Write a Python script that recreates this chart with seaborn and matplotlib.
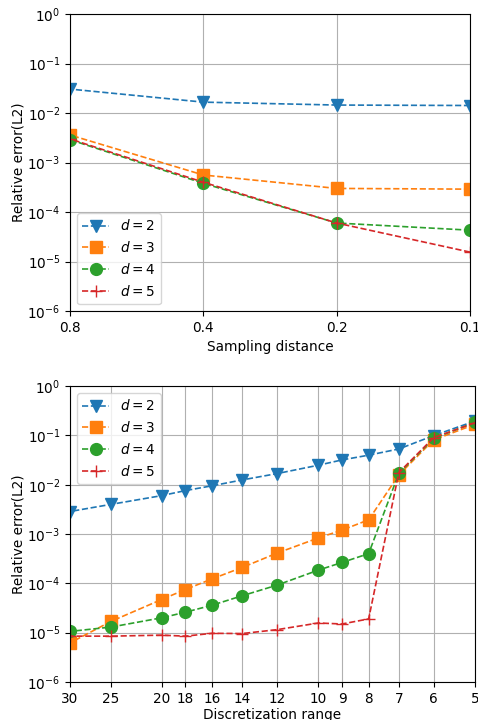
import matplotlib
matplotlib.use("Agg")
import matplotlib.pyplot as plt
import matplotlib.ticker as mticker
import seaborn as sns

# top panel: error vs sampling distance
sampling = [0.8, 0.4, 0.2, 0.1]
top_d2 = [3.05e-2, 1.66e-2, 1.45e-2, 1.42e-2]
top_d3 = [3.6e-3, 5.6e-4, 3.0e-4, 2.9e-4]
top_d4 = [2.9e-3, 3.8e-4, 6.0e-5, 4.3e-5]
top_d5 = [3.0e-3, 4.0e-4, 6.0e-5, 1.55e-5]

# bottom panel: error vs discretization range
disc = [30, 25, 20, 18, 16, 14, 12, 10, 9, 8, 7, 6, 5]
bot_d2 = [2.86e-3, 4.0e-3, 6.0e-3, 7.6e-3, 9.5e-3, 1.25e-2, 1.68e-2, 2.48e-2, 3.18e-2, 3.97e-2, 5.3e-2, 9.9e-2, 1.95e-1]
bot_d3 = [6.2e-6, 1.7e-5, 4.7e-5, 7.5e-5, 1.23e-4, 2.1e-4, 4.1e-4, 8.3e-4, 1.2e-3, 1.94e-3, 1.58e-2, 8.1e-2, 1.67e-1]
bot_d4 = [1.06e-5, 1.3e-5, 2.0e-5, 2.6e-5, 3.6e-5, 5.6e-5, 9.2e-5, 1.85e-4, 2.65e-4, 4.0e-4, 1.7e-2, 8.7e-2, 1.84e-1]
bot_d5 = [8.5e-6, 8.5e-6, 8.9e-6, 8.5e-6, 9.7e-6, 9.6e-6, 1.15e-5, 1.57e-5, 1.5e-5, 1.9e-5, 1.76e-2, 9.0e-2, 1.8e-1]

labels = ["$d=2$", "$d=3$", "$d=4$", "$d=5$"]
markers = ["v", "s", "o", "+"]
colors = ["#1f77b4", "#ff7f0e", "#2ca02c", "#d62728"]

plt.rcParams["font.size"] = 9.8

fig = plt.figure(figsize=(4.78, 7.2), dpi=100)
ax1 = fig.add_axes([0.1464, 0.568, 0.837, 0.4125])
ax2 = fig.add_axes([0.1464, 0.0528, 0.847, 0.411])


def draw(ax, x, series):
    for ys, lab, m, c in zip(series, labels, markers, colors):
        sns.lineplot(x=x, y=ys, ax=ax, label=lab, marker=m, color=c,
                     linestyle="--", markersize=8.5, markeredgecolor=c,
                     markeredgewidth=1, linewidth=1.2)
    ax.set_xscale("log")
    ax.set_yscale("log")
    ax.set_ylim(1e-6, 1)
    ax.yaxis.set_major_locator(mticker.LogLocator(base=10, numticks=10))
    ax.yaxis.set_minor_locator(mticker.NullLocator())
    ax.xaxis.set_minor_locator(mticker.NullLocator())
    ax.grid(True, color="#b0b0b0", linewidth=0.8)
    ax.set_ylabel("Relative error(L2)")


draw(ax1, sampling, [top_d2, top_d3, top_d4, top_d5])
ax1.set_xticks(sampling)
ax1.set_xticklabels([str(s) for s in sampling])
ax1.xaxis.set_minor_locator(mticker.NullLocator())
ax1.set_xlim(0.8, 0.1)
ax1.set_xlabel("Sampling distance")
ax1.yaxis.set_label_coords(-0.11, 0.5)
ax1.legend(loc="lower left", handlelength=2.0)

draw(ax2, disc, [bot_d2, bot_d3, bot_d4, bot_d5])
ax2.set_xticks(disc)
ax2.set_xticklabels([str(s) for s in disc])
ax2.xaxis.set_minor_locator(mticker.NullLocator())
ax2.set_xlim(30, 5)
ax2.set_xlabel("Discretization range", labelpad=2)
ax2.yaxis.set_label_coords(-0.109, 0.5)
ax2.legend(loc="upper left", handlelength=2.0)

fig.savefig("out.png", dpi=100)
